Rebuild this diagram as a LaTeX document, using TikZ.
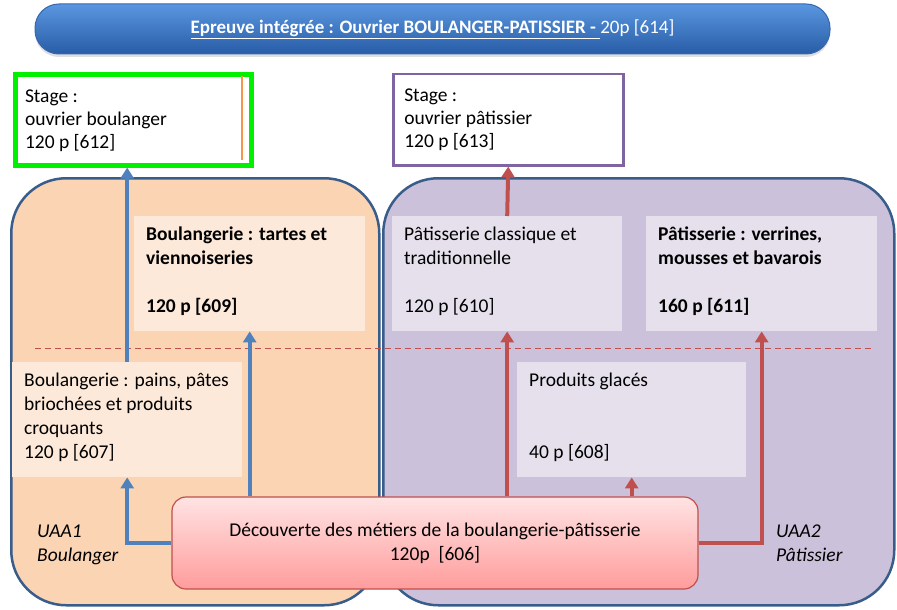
\documentclass[tikz,border=0pt]{standalone}
\usepackage{fontspec}
\setmainfont{Carlito}
\usetikzlibrary{arrows.meta,positioning,shadows}

\definecolor{boulpanel}{HTML}{FBD4B4}
\definecolor{boulbox}{HTML}{FDE9D9}
\definecolor{patpanel}{HTML}{CCC1DA}
\definecolor{patbox}{HTML}{E5E0EC}
\definecolor{panelline}{HTML}{385D8A}
\definecolor{bluearrow}{HTML}{4F81BD}
\definecolor{redarrow}{HTML}{C0504D}
\definecolor{stagegreen}{HTML}{00F000}
\definecolor{stagepurple}{HTML}{8064A2}
\definecolor{stageorange}{HTML}{F79646}
\definecolor{titletop}{HTML}{5A97E0}
\definecolor{titlebottom}{HTML}{285CA6}
\definecolor{titleline}{HTML}{3567AE}
\definecolor{basetop}{HTML}{FFE3E3}
\definecolor{basebottom}{HTML}{FF9C9C}

\newcommand{\unittext}[3]{\parbox[t][#2][t]{#1}{\strut #3}}

\tikzset{
  panel/.style={draw=panelline, line width=2.5pt, rounded corners=55pt, anchor=north west,
    minimum width=#1, minimum height=427pt, inner sep=0pt},
  unitbox/.style={anchor=north west, inner xsep=12pt, inner ysep=7pt, fill=#1,
    font=\fontsize{19.5}{24}\selectfont},
  stagebox/.style={draw=#1, anchor=north west, inner ysep=11pt, fill=white,
    font=\fontsize{19.5}{23}\selectfont},
  arr/.style={draw=#1, line width=4pt, -{Triangle[width=13pt,length=11pt]}},
  uaalabel/.style={anchor=north west, inner sep=0pt, align=left,
    font=\fontsize{19.5}{24}\selectfont\itshape}
}

\begin{document}
\begin{tikzpicture}[x=1pt,y=-1pt]
\useasboundingbox (0,0) rectangle (897,610);

% panels
\node[panel=368pt, fill=boulpanel] (uaa1) at (10,177) {};
\node[panel=511pt, fill=patpanel] (uaa2) at (382,177) {};
\node[uaalabel] (uaa1text) at (37,525) {UAA1\\Boulanger};
\node[uaalabel] (uaa2text) at (776,525) {UAA2\\Pâtissier};

% units
\node[unitbox=boulbox] (b609) at (134,216) {\unittext{207pt}{101pt}{\textbf{Boulangerie : tartes et\\viennoiseries\\[24pt]120 p [609]}}};
\node[unitbox=patbox] (b610) at (392,216) {\unittext{206pt}{101pt}{Pâtisserie classique et\\traditionnelle\\[24pt]120 p [610]}};
\node[unitbox=patbox] (b611) at (646,216) {\unittext{207pt}{101pt}{\textbf{Pâtisserie : verrines,\\mousses et bavarois\\[24pt]160 p [611]}}};
\node[unitbox=boulbox] (b607) at (12,362) {\unittext{206pt}{101pt}{Boulangerie : pains, pâtes\\briochées et produits\\croquants\\120 p [607]}};
\node[unitbox=patbox] (b608) at (517,362) {\unittext{205pt}{101pt}{Produits glacés\\[48pt]40 p [608]}};

\draw[redarrow, line width=1pt, dash pattern=on 6pt off 4pt] (35,348) -- (873,348);

% stages
\node[stagebox=stagegreen, line width=5pt, inner xsep=10pt] (b612) at (12.5,72.5) {\unittext{216pt}{68pt}{Stage :\\ouvrier boulanger\\120 p [612]}};
\draw[stageorange, line width=2pt] (242,76) -- (242,160);
\node[stagebox=stagepurple, line width=2.5pt, inner xsep=11pt] (b613) at (392,73) {\unittext{208pt}{69pt}{Stage :\\ouvrier pâtissier\\120 p [613]}};

% title and base
\node[top color=titletop, bottom color=titlebottom, draw=titleline, line width=1pt,
  rounded corners=24pt, minimum width=795pt, minimum height=50pt, text=white,
  drop shadow={opacity=0.25, shadow xshift=0pt, shadow yshift=-3pt},
  font=\fontsize{19}{22}\selectfont] (title) at (432.5,29)
  {\underline{\textbf{Epreuve intégrée : Ouvrier BOULANGER-PATISSIER - }}20p [614]};
\node[top color=basetop, bottom color=basebottom, draw=redarrow, line width=1.2pt,
  rounded corners=14pt, minimum width=526pt, minimum height=92pt, align=center,
  font=\fontsize{19.5}{24}\selectfont] (b606) at (435,543)
  {Découverte des métiers de la boulangerie-pâtisserie\\120p~~[606]};

% arrows
\draw[arr=bluearrow] (b607.north) -- (b607.north |- b612.south);
\draw[arr=bluearrow] (b606.west) -| (b607.south);
\draw[arr=bluearrow] (b609.south |- b606.north) -- (b609.south);
\draw[arr=redarrow] (b610.south |- b606.north) -- (b610.south);
\draw[arr=redarrow] (b610.north) -- (b613.south);
\draw[arr=redarrow] (b608.south |- b606.north) -- (b608.south);
\draw[arr=redarrow] (b606.east) -| (b611.south);

\end{tikzpicture}
\end{document}
